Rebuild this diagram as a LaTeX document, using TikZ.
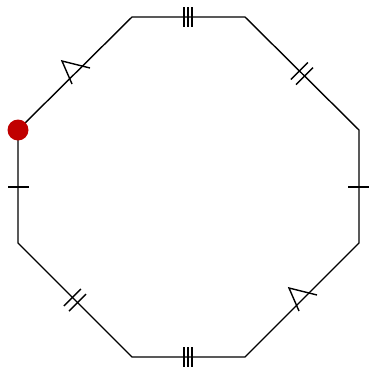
\documentclass[tikz,border=0pt]{standalone}
\usetikzlibrary{calc}
\begin{document}
\begin{tikzpicture}[x=1pt,y=-1pt,
  edge/.style={line width=1.4pt,line join=miter},
  tickline/.style={line width=1.4pt}]
\useasboundingbox (0,0) rectangle (369,370);
\coordinate (v1) at (132,17);
\coordinate (v2) at (245,17);
\coordinate (v3) at (359,130);
\coordinate (v4) at (359,243);
\coordinate (v5) at (245,357);
\coordinate (v6) at (132,357);
\coordinate (v7) at (18,243);
\coordinate (v8) at (18,130);
\draw[edge] (v1)--(v2)--(v3)--(v4)--(v5)--(v6)--(v7)--(v8)--cycle;
% single ticks
\draw[tickline] (8,187)--(29,187);
\draw[tickline] (348,187)--(369,187);
% triple ticks
\foreach \x in {184,188,192} {
  \draw[tickline] (\x,7)--(\x,27);
  \draw[tickline] (\x,347)--(\x,367);
}
% double ticks
\foreach \d in {-2.6,2.6} {
  \draw[tickline] ($(302,73.5)+(\d,\d)+(-8.5,8.5)$)--($(302,73.5)+(\d,\d)+(8.5,-8.5)$);
  \draw[tickline] ($(75,300)+(\d,\d)+(-8.5,8.5)$)--($(75,300)+(\d,\d)+(8.5,-8.5)$);
}
% chevrons
\draw[tickline,line join=miter] (90,68)--(62,61)--(72,84);
\draw[tickline,line join=miter] (317,295)--(289,288)--(299,311);
% dot
\fill[fill={rgb,255:red,192;green,0;blue,0}] (v8) circle (10.5);
\end{tikzpicture}
\end{document}
